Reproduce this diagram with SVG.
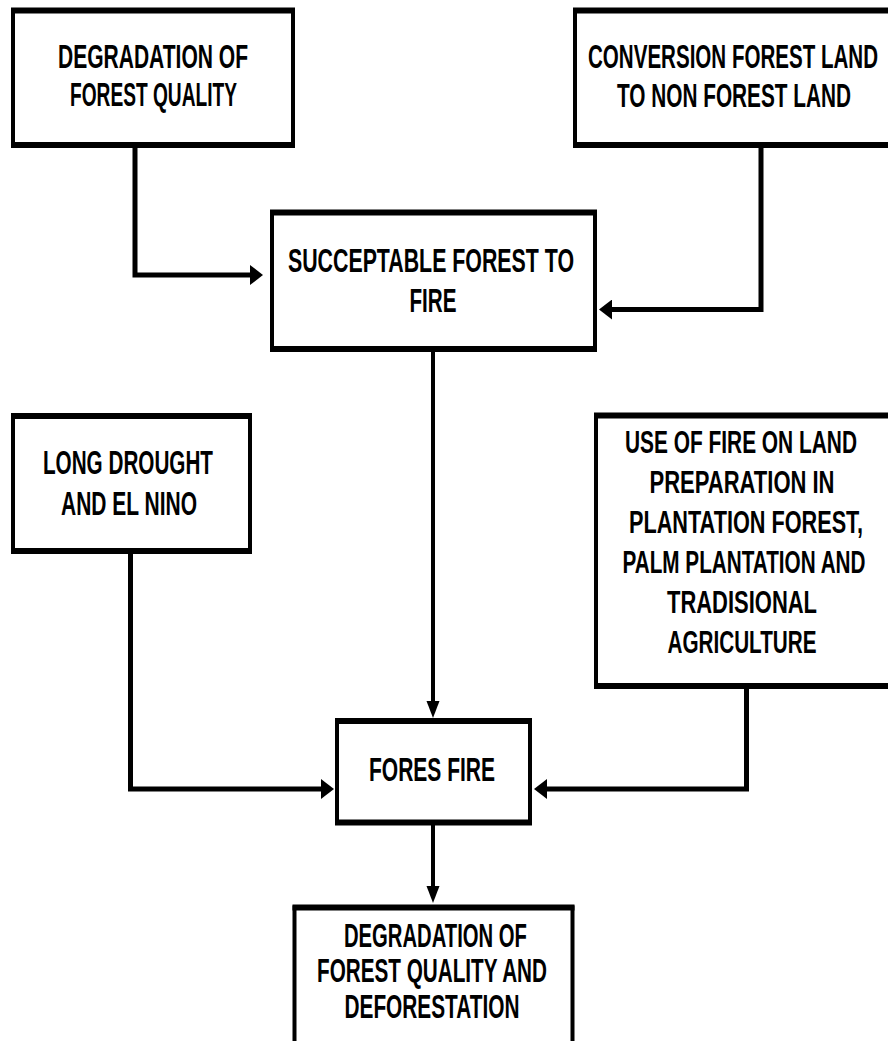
<svg xmlns="http://www.w3.org/2000/svg" width="888" height="1041" viewBox="0 0 888 1041">
<style>
.box{fill:#fff;stroke:#000;stroke-width:4}
.tb{fill:none;stroke:#000;stroke-width:6}
.t{font-family:"Liberation Sans",Arial,sans-serif;font-weight:bold;font-size:34px;fill:#000;text-anchor:middle}
.s{font-size:31px}
.c{fill:none;stroke:#000;stroke-width:5;stroke-linejoin:miter}
.cv{fill:none;stroke:#000;stroke-width:4}
</style>
<defs>
<marker id="ah" markerUnits="userSpaceOnUse" markerWidth="14" markerHeight="20" refX="1" refY="10" orient="auto" viewBox="0 0 14 20">
<path d="M0,0 L13,10 L0,20 Z" fill="#000"/>
</marker>
<marker id="av" markerUnits="userSpaceOnUse" markerWidth="18" markerHeight="14" refX="1" refY="6.5" orient="auto" viewBox="0 0 18 14">
<path d="M0,0 L17,6.5 L0,13 Z" fill="#000"/>
</marker>
</defs>
<rect width="888" height="1041" fill="#fff"/>
<g id="connectors">
<path class="c" d="M135,147 V275 H251" marker-end="url(#ah)"/>
<path class="c" d="M761,147 V309.5 H611" marker-end="url(#ah)"/>
<path class="cv" d="M433,350 V702" marker-end="url(#av)"/>
<path class="c" d="M130.5,553 V789 H322" marker-end="url(#ah)"/>
<path class="c" d="M746.5,688 V789 H546" marker-end="url(#ah)"/>
<path class="cv" d="M433,824 V887" marker-end="url(#av)"/>
</g>
<g id="n1">
<rect class="box" x="13" y="10.5" width="280" height="134.5"/>
<path class="tb" d="M11,10.5 H295 M11,145 H295"/>
<g transform="scale(0.6 1)">
<text class="t" x="255" y="68" textLength="316.7" lengthAdjust="spacingAndGlyphs">DEGRADATION OF</text>
<text class="t" x="255.8" y="106" textLength="278.3" lengthAdjust="spacingAndGlyphs">FOREST QUALITY</text>
</g>
</g>
<g id="n2">
<rect class="box" x="575" y="10.5" width="316" height="134.5"/>
<path class="tb" d="M573,10.5 H893 M573,145 H893"/>
<g transform="scale(0.6 1)">
<text class="t" x="1221.7" y="68" textLength="483.3" lengthAdjust="spacingAndGlyphs">CONVERSION FOREST LAND</text>
<text class="t" x="1223.3" y="107" textLength="390" lengthAdjust="spacingAndGlyphs">TO NON FOREST LAND</text>
</g>
</g>
<g id="n3">
<rect class="box" x="272" y="212.5" width="323" height="136.5"/>
<path class="tb" d="M270,212.5 H597 M270,349 H597"/>
<g transform="scale(0.6 1)">
<text class="t" x="718.3" y="272" textLength="476.7" lengthAdjust="spacingAndGlyphs">SUCCEPTABLE FOREST TO</text>
<text class="t" x="721.7" y="312" textLength="78.3" lengthAdjust="spacingAndGlyphs">FIRE</text>
</g>
</g>
<g id="n4">
<rect class="box" x="13" y="416" width="237" height="135"/>
<path class="tb" d="M11,416 H252 M11,551 H252"/>
<g transform="scale(0.6 1)">
<text class="t" x="213.3" y="474" textLength="283.3" lengthAdjust="spacingAndGlyphs">LONG DROUGHT</text>
<text class="t" x="215" y="515" textLength="226.7" lengthAdjust="spacingAndGlyphs">AND EL NINO</text>
</g>
</g>
<g id="n5">
<rect class="box" x="596" y="415.5" width="295" height="270.5"/>
<path class="tb" d="M594,415.5 H893 M594,686 H893"/>
<g transform="scale(0.6 1)">
<text class="t s" x="1235" y="453" textLength="386.7" lengthAdjust="spacingAndGlyphs">USE OF FIRE ON LAND</text>
<text class="t s" x="1236.7" y="493" textLength="308.3" lengthAdjust="spacingAndGlyphs">PREPARATION IN</text>
<text class="t s" x="1243.3" y="533" textLength="390" lengthAdjust="spacingAndGlyphs">PLANTATION FOREST,</text>
<text class="t s" x="1240" y="573" textLength="405" lengthAdjust="spacingAndGlyphs">PALM PLANTATION AND</text>
<text class="t s" x="1236.7" y="613" textLength="250" lengthAdjust="spacingAndGlyphs">TRADISIONAL</text>
<text class="t s" x="1236.7" y="653" textLength="248.3" lengthAdjust="spacingAndGlyphs">AGRICULTURE</text>
</g>
</g>
<g id="n6">
<rect class="box" x="337" y="721" width="193" height="101.5"/>
<path class="tb" d="M335,721 H532 M335,822.5 H532"/>
<g transform="scale(0.6 1)">
<text class="t" x="720" y="781" textLength="210" lengthAdjust="spacingAndGlyphs">FORES FIRE</text>
</g>
</g>
<g id="n7">
<rect class="box" x="294.5" y="907.5" width="278" height="140"/>
<path class="tb" d="M292.5,907.5 H574.5"/>
<g transform="scale(0.6 1)">
<text class="t" x="725.8" y="947" textLength="305" lengthAdjust="spacingAndGlyphs">DEGRADATION OF</text>
<text class="t" x="720" y="982" textLength="383.3" lengthAdjust="spacingAndGlyphs">FOREST QUALITY AND</text>
<text class="t" x="720" y="1018" textLength="291.7" lengthAdjust="spacingAndGlyphs">DEFORESTATION</text>
</g>
</g>
</svg>
